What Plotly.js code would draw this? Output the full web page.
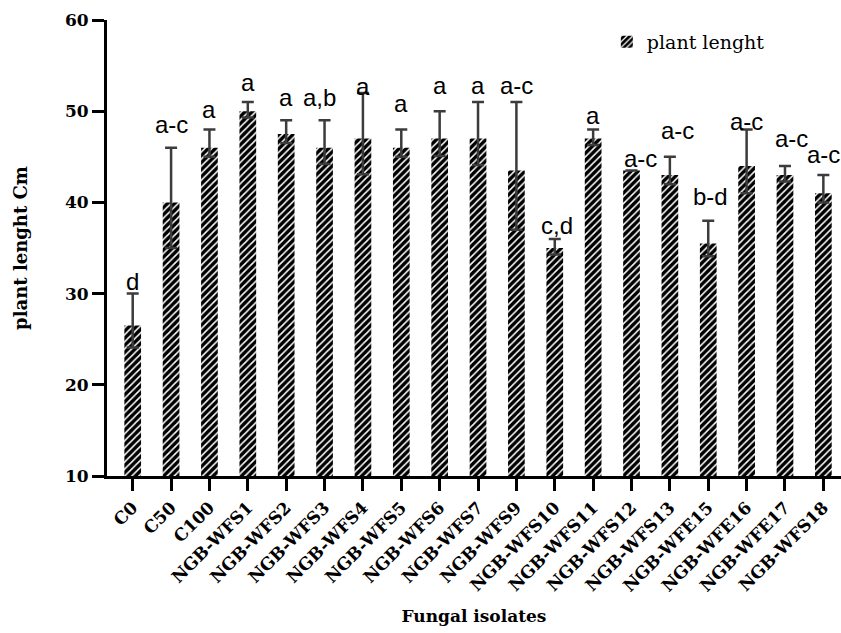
<!DOCTYPE html>
<html>
<head>
<meta charset="utf-8">
<script src="https://cdn.plot.ly/plotly-3.0.1.min.js"></script>
<style>html,body{margin:0;padding:0;background:#fff;}#chart{width:841px;height:633px;}</style>
</head>
<body>
<div id="chart"></div>
<script>
var categories = ["C0","C50","C100","NGB-WFS1","NGB-WFS2","NGB-WFS3","NGB-WFS4","NGB-WFS5","NGB-WFS6","NGB-WFS7","NGB-WFS9","NGB-WFS10","NGB-WFS11","NGB-WFS12","NGB-WFS13","NGB-WFE15","NGB-WFE16","NGB-WFE17","NGB-WFS18"];
var plantLength = [26.5,40,46,50,47.5,46,47,46,47,47,43.5,35,47,43.5,43,35.5,44,43,41];
var errPlus  = [3.5,6,2,1,1.5,3,5,2,3,4,7.5,1,1,0,2,2.5,4,1,2];
var errMinus = [2.4,5,1,0.7,1,1.8,3.9,1,1.9,2.9,6.5,0.7,0.7,0,1,1.4,3,0.7,1];
var letters = ["d","a-c","a","a","a","a,b","a","a","a","a","a-c","c,d","a","a-c","a-c","b-d","a-c","a-c","a-c"];
var letterY = [31.3,48.5,50.2,53.2,51.5,51.5,52.7,50.8,52.8,52.8,52.8,37.5,49.5,44.8,47.9,40.6,48.85,47.0,45.3];
var letterShift = [0,0,0,0,0,-5,0,0,0,0,0,2,0,9,8,2,0,7,0];

var serif = "DejaVu Serif";
var trace = {
  type: "bar",
  x: categories,
  y: plantLength,
  name: "plant lenght",
  showlegend: true,
  marker: {
    color: "black",
    line: {width: 0},
    pattern: {shape: "/", fillmode: "replace", bgcolor: "black", fgcolor: "white", size: 5, solidity: 0.3}
  },
  error_y: {
    type: "data", symmetric: false,
    array: errPlus, arrayminus: errMinus,
    color: "#3c3c3c", thickness: 2.5, width: 6
  }
};

var annotations = categories.map(function(c, i){
  return {
    x: c, y: letterY[i], xref: "x", yref: "y",
    text: letters[i], showarrow: false,
    xanchor: "center", yanchor: "middle", xshift: letterShift[i],
    font: {family: "Liberation Sans", size: 24, color: "black"}
  };
});

var layout = {
  width: 841, height: 633,
  margin: {l: 107, r: 0, t: 20, b: 157},
  paper_bgcolor: "white", plot_bgcolor: "white",
  bargap: 0.565,
  showlegend: true,
  legend: {
    x: 0.681, xanchor: "left", y: 0.952, yanchor: "middle",
    font: {family: serif, size: 19, color: "black"},
    bgcolor: "rgba(0,0,0,0)"
  },
  xaxis: {
    type: "category",
    range: [-0.67, 18.46],
    showline: true, linewidth: 3, linecolor: "black",
    ticks: "outside", ticklen: 12, tickwidth: 3, tickcolor: "black",
    tickangle: -45,
    tickfont: {family: serif, size: 17, weight: "bold", color: "black"},
    showgrid: false, zeroline: false,
    title: {text: "Fungal isolates", font: {family: serif, size: 17, weight: "bold", color: "black"}, standoff: 16}
  },
  yaxis: {
    range: [10, 60], dtick: 10, tick0: 10,
    showline: true, linewidth: 3, linecolor: "black",
    ticks: "outside", ticklen: 12, tickwidth: 3, tickcolor: "black",
    tickfont: {family: serif, size: 17, weight: "bold", color: "black"},
    showgrid: false, zeroline: false,
    title: {text: "plant lenght Cm", font: {family: serif, size: 18, weight: "bold", color: "black"}, standoff: 33}
  },
  annotations: annotations
};

Plotly.newPlot("chart", [trace], layout, {displayModeBar: false, staticPlot: true});
</script>
</body>
</html>
